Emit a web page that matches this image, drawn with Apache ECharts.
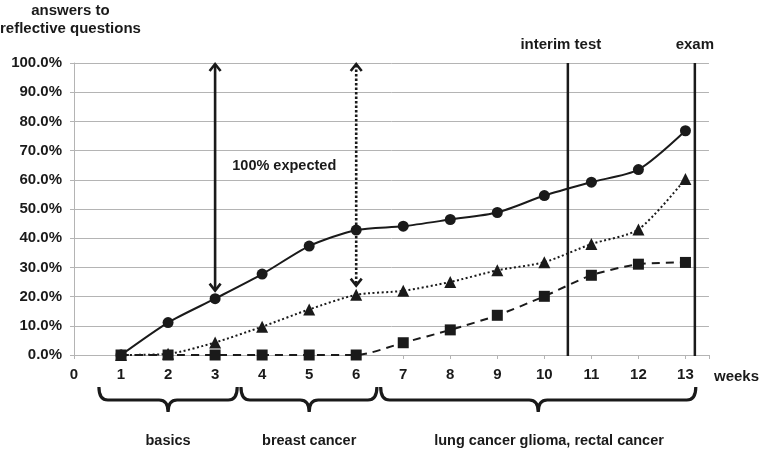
<!DOCTYPE html>
<html>
<head>
<meta charset="utf-8">
<script src="https://cdn.jsdelivr.net/npm/echarts@6/dist/echarts.min.js"></script>
<style>
html,body{margin:0;padding:0;background:#fff;}
#main{width:762px;height:451px;}
</style>
</head>
<body>
<div id="main"></div>
<script>
// ---- data ----
const weeks = [1, 2, 3, 4, 5, 6, 7, 8, 9, 10, 11, 12, 13];
const circleValues = [0, 11.1, 19.3, 27.7, 37.3, 42.8, 44.1, 46.4, 48.8, 54.6, 59.2, 63.5, 76.8];
const triangleValues = [0, 0.4, 4.3, 9.7, 15.6, 20.6, 22.0, 25.0, 29.0, 31.8, 38.0, 43.0, 60.3];
const squareValues = [0, 0, 0, 0, 0, 0, 4.2, 8.6, 13.6, 20.1, 27.3, 31.1, 31.7];
const xTickValues = [0, 1, 2, 3, 4, 5, 6, 7, 8, 9, 10, 11, 12, 13];
const yTickValues = [0, 10, 20, 30, 40, 50, 60, 70, 80, 90, 100];

const phaseLabels = ['basics', 'breast cancer', 'lung cancer glioma, rectal cancer'];
const phaseStart = [0.53, 3.55, 6.52];
const phaseEnd = [3.47, 6.44, 13.22];
const phaseTip = [2.0, 5.0, 9.87];
const phaseLabelWeek = [2.0, 5.0, 10.1];

const eventLabels = ['interim test', 'exam'];
const eventWeeks = [10.5, 13.2];

const arrowWeeks = [3, 6];
const arrowTop = [100, 100];
const arrowBottom = [21.7, 23.4];
const arrowDotted = [false, true];

const noteText = '100% expected';
const noteWeek = 4.47;
const noteValue = 64.8;

const axisTitleY = 'answers to\nreflective questions';
const axisTitleX = 'weeks';

// ---- chart ----
const FONT = '"Liberation Sans", Arial, sans-serif';
const INK = '#1a1a1a';
const GRID = '#b4b4b4';

const chart = echarts.init(document.getElementById('main'), null, {renderer: 'canvas'});

function pairs(vals) { return weeks.map((w, i) => [w, vals[i]]); }

const option = {
  animation: false,
  backgroundColor: '#fff',
  grid: {left: 74, right: 49, top: 63, bottom: 96, containLabel: false},
  xAxis: {
    type: 'value', min: 0, max: 13.5, interval: 1,
    axisLine: {show: true, lineStyle: {color: GRID, width: 1}},
    axisTick: {show: true, length: 4, lineStyle: {color: GRID}},
    splitLine: {show: false},
    axisLabel: {
      margin: 12, color: INK, fontFamily: FONT, fontWeight: 'bold', fontSize: 15,
      formatter: v => (xTickValues.indexOf(v) >= 0 ? String(v) : '')
    },
    name: axisTitleX, nameLocation: 'end', nameGap: 5,
    nameTextStyle: {color: INK, fontFamily: FONT, fontWeight: 'bold', fontSize: 15,
      align: 'left', verticalAlign: 'top', padding: [14, 0, 0, 0]}
  },
  yAxis: {
    type: 'value', min: 0, max: 100, interval: 10,
    axisLine: {show: true, lineStyle: {color: GRID, width: 1}},
    axisTick: {show: true, length: 4, lineStyle: {color: GRID}},
    splitLine: {show: true, lineStyle: {color: GRID, width: 1}},
    axisLabel: {
      margin: 12, color: INK, fontFamily: FONT, fontWeight: 'bold', fontSize: 15,
      formatter: v => (yTickValues.indexOf(v) >= 0 ? v.toFixed(1) + '%' : '')
    }
  },
  graphic: [{
    type: 'text', left: 0, top: 2,
    style: {text: axisTitleY, fill: INK, font: 'bold 15px ' + FONT, textAlign: 'center', lineHeight: 18},
    x: 71
  }],
  series: [
    {
      type: 'line', data: pairs(circleValues), smooth: 0.25,
      symbol: 'circle', symbolSize: 11,
      lineStyle: {color: INK, width: 2},
      itemStyle: {color: INK}, z: 5
    },
    {
      type: 'line', data: pairs(triangleValues), smooth: 0.25,
      symbol: 'triangle', symbolSize: 12,
      lineStyle: {color: INK, width: 2, type: [2, 2.5]},
      itemStyle: {color: INK}, z: 5
    },
    {
      type: 'line', data: pairs(squareValues), smooth: 0.25,
      symbol: 'rect', symbolSize: 11,
      lineStyle: {color: INK, width: 2, type: [8, 6]},
      itemStyle: {color: INK}, z: 5
    },
    // event lines (interim test, exam)
    {
      type: 'custom', clip: false, silent: true, z: 4,
      data: eventWeeks.map((w, i) => [w, 100, i]),
      renderItem: (params, api) => {
        const w = api.value(0);
        const i = api.value(2);
        const top = api.coord([w, 100]);
        const bot = api.coord([w, 0]);
        return {
          type: 'group', children: [
            {type: 'line', shape: {x1: top[0], y1: top[1], x2: bot[0], y2: bot[1] + 1},
              style: {stroke: INK, lineWidth: 2.5}},
            {type: 'text', style: {text: eventLabels[i], x: top[0] - (i === 0 ? 7 : 0), y: top[1] - 18,
              fill: INK, font: 'bold 15px ' + FONT, textAlign: 'center', textVerticalAlign: 'middle'}}
          ]
        };
      }
    },
    // expectation arrows
    {
      type: 'custom', clip: false, silent: true, z: 4,
      data: arrowWeeks.map((w, i) => [w, arrowTop[i], arrowBottom[i], i]),
      renderItem: (params, api) => {
        const w = api.value(0);
        const i = api.value(3);
        const a = api.coord([w, api.value(1)]);
        const b = api.coord([w, api.value(2)]);
        const dash = arrowDotted[i] ? [2.5, 2] : null;
        const hw = 5.5, hh = 8;
        const st = {stroke: INK, lineWidth: 2.6, lineDash: dash};
        const hs = {stroke: INK, lineWidth: 2.6, fill: 'none', lineJoin: 'miter'};
        return {
          type: 'group', children: [
            {type: 'line', shape: {x1: a[0], y1: a[1] + 2, x2: b[0], y2: b[1] - 2}, style: st},
            {type: 'polyline', shape: {points: [[a[0] - hw, a[1] + hh], [a[0], a[1] + 1], [a[0] + hw, a[1] + hh]]}, style: hs},
            {type: 'polyline', shape: {points: [[b[0] - hw, b[1] - hh], [b[0], b[1] - 1], [b[0] + hw, b[1] - hh]]}, style: hs}
          ]
        };
      }
    },
    // note text
    {
      type: 'custom', clip: false, silent: true, z: 4,
      data: [[noteWeek, noteValue]],
      renderItem: (params, api) => {
        const p = api.coord([api.value(0), api.value(1)]);
        return {type: 'text', style: {text: noteText, x: p[0], y: p[1], fill: INK,
          font: 'bold 14.5px ' + FONT, textAlign: 'center', textVerticalAlign: 'middle'}};
      }
    },
    // phase braces and labels
    {
      type: 'custom', clip: false, silent: true, z: 4,
      data: phaseStart.map((s, i) => [s, 0, i]),
      renderItem: (params, api) => {
        const i = api.value(2);
        const xa = api.coord([phaseStart[i], 0])[0];
        const xb = api.coord([phaseEnd[i], 0])[0];
        const xt = api.coord([phaseTip[i], 0])[0];
        const xl = api.coord([phaseLabelWeek[i], 0])[0];
        const y0 = api.coord([0, 0])[1];
        const top = y0 + 32, mid = y0 + 45, tip = y0 + 57, r = 9;
        const path = 'M' + xa + ' ' + top +
          ' Q' + xa + ' ' + mid + ' ' + (xa + r) + ' ' + mid +
          ' L' + (xt - r) + ' ' + mid +
          ' Q' + xt + ' ' + mid + ' ' + xt + ' ' + tip +
          ' Q' + xt + ' ' + mid + ' ' + (xt + r) + ' ' + mid +
          ' L' + (xb - r) + ' ' + mid +
          ' Q' + xb + ' ' + mid + ' ' + xb + ' ' + top;
        return {
          type: 'group', children: [
            {type: 'path', shape: {pathData: path}, style: {stroke: INK, lineWidth: 3.2, fill: 'none'}},
            {type: 'text', style: {text: phaseLabels[i], x: xl, y: y0 + 86, fill: INK,
              font: 'bold 14.5px ' + FONT, textAlign: 'center', textVerticalAlign: 'middle'}}
          ]
        };
      }
    }
  ]
};
chart.setOption(option);
</script>
</body>
</html>
